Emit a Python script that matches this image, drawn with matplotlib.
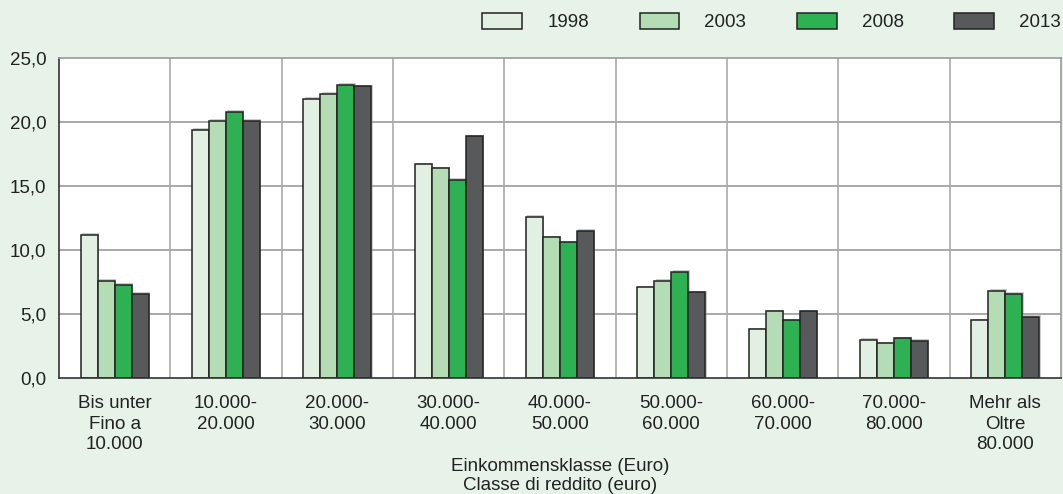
import matplotlib
matplotlib.use("Agg")
import matplotlib.pyplot as plt
import numpy as np
from matplotlib.patches import Patch

categories = ["Bis unter\nFino a\n10.000", "10.000-\n20.000", "20.000-\n30.000", "30.000-\n40.000",
              "40.000-\n50.000", "50.000-\n60.000", "60.000-\n70.000", "70.000-\n80.000",
              "Mehr als\nOltre\n80.000"]
years = ["1998", "2003", "2008", "2013"]
v1998 = [11.2, 19.4, 21.8, 16.7, 12.6, 7.1, 3.8, 3.0, 4.5]
v2003 = [7.6, 20.1, 22.2, 16.4, 11.0, 7.6, 5.2, 2.7, 6.8]
v2008 = [7.3, 20.8, 22.9, 15.5, 10.6, 8.3, 4.5, 3.1, 6.6]
v2013 = [6.6, 20.1, 22.8, 18.9, 11.5, 6.7, 5.2, 2.9, 4.8]
series = [v1998, v2003, v2008, v2013]
colors = ["#E1F0E2", "#B4DDB6", "#2EB153", "#58595B"]
yticks = [0, 5, 10, 15, 20, 25]

plt.rcParams['font.family'] = ['Liberation Sans', 'DejaVu Sans']
FS = 13.5
bg = "#E7F3E8"
W, H = 1063, 494
fig = plt.figure(figsize=(W / 100, H / 100), dpi=100, facecolor=bg)
L, R, T, B = 59, 1061, 58, 378
ax = fig.add_axes([L / W, 1 - B / H, (R - L) / W, (B - T) / H])
ax.set_facecolor("white")

n = len(categories)
x = np.arange(n)
bw = 0.153
for i, (vals, c) in enumerate(zip(series, colors)):
    off = (i - 1.5) * bw
    # subtle shadow
    ax.bar(x + off + 0.012, np.array(vals) + 0.12, bw, color="#9a9a9a", alpha=0.5,
           linewidth=0, zorder=2)
    ax.bar(x + off, vals, bw, color=c, edgecolor="#222222", linewidth=1.1,
           zorder=3, label=years[i])

ax.set_xlim(-0.5, n - 0.5)
ax.set_ylim(0, 25)
ax.set_yticks(yticks)
ax.set_yticklabels([f"{t:.1f}".replace(".", ",") for t in yticks], fontsize=FS, color="#222222")
ax.set_xticks(x)
ax.set_xticklabels(categories, fontsize=FS, color="#222222", linespacing=1.3)
ax.tick_params(axis="both", which="both", length=0)
ax.tick_params(axis="x", which="major", pad=12)
ax.tick_params(axis="y", pad=9)
for yv in yticks[1:-1]:
    ax.axhline(yv, color="#999999", linewidth=1.2, zorder=1)
for xv in np.arange(0.5, n - 0.5, 1.0):
    ax.axvline(xv, color="#aaaaaa", linewidth=1.2, zorder=1)

for s in ["top", "right"]:
    ax.spines[s].set_color("#999999")
    ax.spines[s].set_linewidth(1.2)
for s in ["left", "bottom"]:
    ax.spines[s].set_color("#333333")
    ax.spines[s].set_linewidth(1.2)
ax.spines["bottom"].set_zorder(5)

ax.set_xlabel("Einkommensklasse (Euro)\nClasse di reddito (euro)", fontsize=FS,
              color="#222222", labelpad=3.5, linespacing=1.12)

handles = [Patch(facecolor=c, edgecolor="#222222", linewidth=1.1) for c in colors]
leg = fig.legend(handles, years, loc="center right", bbox_to_anchor=(1061 / W, 1 - 22 / H),
                 ncol=4, frameon=False, fontsize=FS, handlelength=2.13, handleheight=0.96,
                 handletextpad=1.33, columnspacing=2.7, borderaxespad=0, borderpad=0)
for t in leg.get_texts():
    t.set_color("#222222")

fig.savefig("out.png", dpi=100, facecolor=bg)
